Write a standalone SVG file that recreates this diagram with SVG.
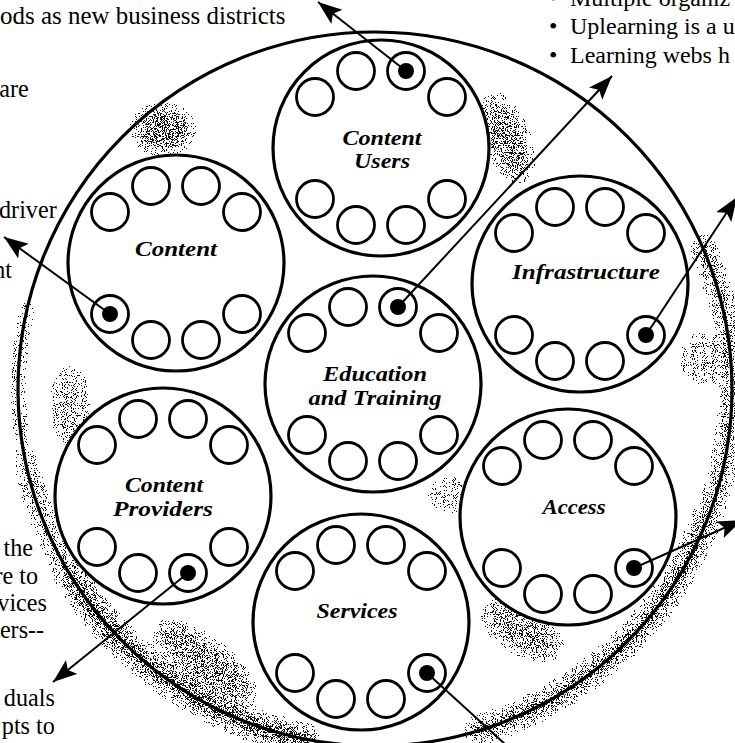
<svg xmlns="http://www.w3.org/2000/svg" xmlns:xlink="http://www.w3.org/1999/xlink" width="735" height="743" viewBox="0 0 735 743">
<defs>
<style>
.ring{fill:#fff;stroke:#000;stroke-width:3.2}
.sm{fill:#fff;stroke:#000;stroke-width:2.8}
.dot{fill:#000}
.lbl{font-family:"Liberation Serif",serif;font-size:21px;font-weight:bold;font-style:italic;text-anchor:middle;fill:#000}
.txt{font-family:"Liberation Serif",serif;font-size:26px;fill:#000;text-anchor:end}
.txr{font-family:"Liberation Serif",serif;font-size:24px;fill:#000}
.conn{stroke:#000;stroke-width:2;fill:none}
.outer{fill:none;stroke:#000;stroke-width:3.2}
.sb{fill:none;stroke:#000}
</style>
<marker id="ah" markerUnits="userSpaceOnUse" markerWidth="26" markerHeight="20" refX="24" refY="9" orient="auto" viewBox="0 0 26 20">
<path d="M0,0 L24,9 L0,18 L5,9 z" fill="#000"/>
</marker>
<filter id="stip" filterUnits="userSpaceOnUse" x="0" y="0" width="735" height="743" color-interpolation-filters="sRGB">
<feGaussianBlur in="SourceAlpha" stdDeviation="7" result="a"/>
<feTurbulence type="fractalNoise" baseFrequency="1.1" numOctaves="1" seed="4" result="t"/>
<feColorMatrix in="t" type="matrix" values="0 0 0 0 0  0 0 0 0 0  0 0 0 0 0  3.5 0 0 0 -1.25" result="n"/>
<feComposite in="a" in2="n" operator="arithmetic" k1="0" k2="1" k3="1" k4="-1" result="m"/>
<feComponentTransfer in="m" result="th"><feFuncA type="discrete" tableValues="0 1 1 1 1 1 1 1 1 1"/></feComponentTransfer>
<feFlood flood-color="#111" result="f"/>
<feComposite in="f" in2="th" operator="in"/>
</filter>
<g id="ring8">
<circle class="sm" cx="-66" cy="-51" r="18.5"/>
<circle class="sm" cx="-25" cy="-77" r="18.5"/>
<circle class="sm" cx="25" cy="-77" r="18.5"/>
<circle class="sm" cx="66" cy="-51" r="18.5"/>
<circle class="sm" cx="-66" cy="51" r="18.5"/>
<circle class="sm" cx="-25" cy="77" r="18.5"/>
<circle class="sm" cx="25" cy="77" r="18.5"/>
<circle class="sm" cx="66" cy="51" r="18.5"/>
</g>
</defs>
<rect width="735" height="743" fill="#fff"/>

<g id="stipple" filter="url(#stip)">
<path class="sb" stroke-width="20" stroke-opacity="0.7" d="M66,568 A357,357 0 0 0 313,741"/>
<path class="sb" stroke-width="16" stroke-opacity="0.42" d="M26,460 A357,357 0 0 0 66,568"/>
<path class="sb" stroke-width="12" stroke-opacity="0.25" d="M30,297 A357,357 0 0 0 26,460"/>
<path class="sb" stroke-width="18" stroke-opacity="0.64" d="M710,511 A357,357 0 0 1 470,733"/>
<path class="sb" stroke-width="16" stroke-opacity="0.52" d="M700,240 A357,357 0 0 1 710,511"/>
<path class="sb" stroke-width="8" stroke-opacity="0.2" d="M230,65 A357,357 0 0 1 400,33"/>
<path class="sb" stroke-width="8" stroke-opacity="0.2" d="M60,215 A357,357 0 0 1 120,140"/>
<ellipse cx="163" cy="130" rx="28" ry="22" fill-opacity="0.58"/>
<ellipse cx="507" cy="138" rx="18" ry="44" transform="rotate(-20 507 138)" fill-opacity="0.52"/>
<ellipse cx="703" cy="358" rx="20" ry="24" fill-opacity="0.32"/>
<ellipse cx="522" cy="630" rx="42" ry="20" transform="rotate(30 522 630)" fill-opacity="0.47"/>
<ellipse cx="205" cy="662" rx="58" ry="20" transform="rotate(38 205 662)" fill-opacity="0.5"/>
<ellipse cx="70" cy="405" rx="16" ry="38" fill-opacity="0.36"/>
<ellipse cx="452" cy="495" rx="24" ry="16" fill-opacity="0.27"/>
</g>

<circle id="outer" class="outer" cx="375" cy="389" r="357"/>

<g id="n-content-users" transform="translate(381,148)">
<circle class="ring" r="108"/>
<use xlink:href="#ring8" href="#ring8"/>
<circle class="dot" cx="25" cy="-77" r="8"/>
<text class="lbl" x="1" y="-3" textLength="79" lengthAdjust="spacingAndGlyphs">Content</text>
<text class="lbl" x="1" y="20" textLength="56" lengthAdjust="spacingAndGlyphs">Users</text>
</g>

<g id="n-content" transform="translate(176,263)">
<circle class="ring" r="108"/>
<use xlink:href="#ring8" href="#ring8"/>
<circle class="dot" cx="-66" cy="51" r="8"/>
<text class="lbl" x="0" y="-7" textLength="82" lengthAdjust="spacingAndGlyphs">Content</text>
</g>

<g id="n-infrastructure" transform="translate(580,284)">
<circle class="ring" r="108"/>
<use xlink:href="#ring8" href="#ring8"/>
<circle class="dot" cx="66" cy="51" r="8"/>
<text class="lbl" x="6" y="-5" textLength="148" lengthAdjust="spacingAndGlyphs">Infrastructure</text>
</g>

<g id="n-education" transform="translate(373,384)">
<circle class="ring" r="108"/>
<use xlink:href="#ring8" href="#ring8"/>
<circle class="dot" cx="25" cy="-77" r="8"/>
<text class="lbl" x="2" y="-3" textLength="104" lengthAdjust="spacingAndGlyphs">Education</text>
<text class="lbl" x="2" y="21" textLength="133" lengthAdjust="spacingAndGlyphs">and Training</text>
</g>

<g id="n-content-providers" transform="translate(163,496)">
<circle class="ring" r="108"/>
<use xlink:href="#ring8" href="#ring8"/>
<circle class="dot" cx="25" cy="77" r="8"/>
<text class="lbl" x="1" y="-4" textLength="78" lengthAdjust="spacingAndGlyphs">Content</text>
<text class="lbl" x="0" y="20" textLength="100" lengthAdjust="spacingAndGlyphs">Providers</text>
</g>

<g id="n-access" transform="translate(568,517)">
<circle class="ring" r="108"/>
<use xlink:href="#ring8" href="#ring8"/>
<circle class="dot" cx="66" cy="51" r="8"/>
<text class="lbl" x="6" y="-3" textLength="63" lengthAdjust="spacingAndGlyphs">Access</text>
</g>

<g id="n-services" transform="translate(361,622)">
<circle class="ring" r="108"/>
<use xlink:href="#ring8" href="#ring8"/>
<circle class="dot" cx="66" cy="51" r="8"/>
<text class="lbl" x="-4" y="-4" textLength="81" lengthAdjust="spacingAndGlyphs">Services</text>
</g>

<g id="connectors">
<line class="conn" x1="406" y1="71" x2="318" y2="2" marker-end="url(#ah)"/>
<line class="conn" x1="110" y1="314" x2="4" y2="237" marker-end="url(#ah)"/>
<line class="conn" x1="398" y1="307" x2="612" y2="76" marker-end="url(#ah)"/>
<line class="conn" x1="646" y1="335" x2="737" y2="197" marker-end="url(#ah)"/>
<line class="conn" x1="188" y1="573" x2="53" y2="682" marker-end="url(#ah)"/>
<line class="conn" x1="634" y1="568" x2="742" y2="520" marker-end="url(#ah)"/>
<line class="conn" x1="427" y1="673" x2="506" y2="745"/>
</g>

<g id="notes-left" transform="scale(0.93 1)">
<text class="txt" x="0" y="24" style="text-anchor:start" textLength="307" lengthAdjust="spacingAndGlyphs">ods as new business districts</text>
<text class="txt" x="31" y="97">are</text>
<text class="txt" x="61" y="218">driver</text>
<text class="txt" x="13" y="278">nt</text>
<text class="txt" x="35.5" y="556">the</text>
<text class="txt" x="41" y="584">re to</text>
<text class="txt" x="50.5" y="611">vices</text>
<text class="txt" x="47.5" y="638">ers--</text>
<text class="txt" x="59" y="706">duals</text>
<text class="txt" x="59" y="734">pts to</text>
</g>

<g id="notes-right">
<text class="txr" x="549" y="6">•</text>
<text class="txr" x="570" y="6">Multiple organiz</text>
<text class="txr" x="549" y="34">•</text>
<text class="txr" x="570" y="34">Uplearning is a u</text>
<text class="txr" x="549" y="63">•</text>
<text class="txr" x="570" y="63">Learning webs h</text>
</g>
</svg>
